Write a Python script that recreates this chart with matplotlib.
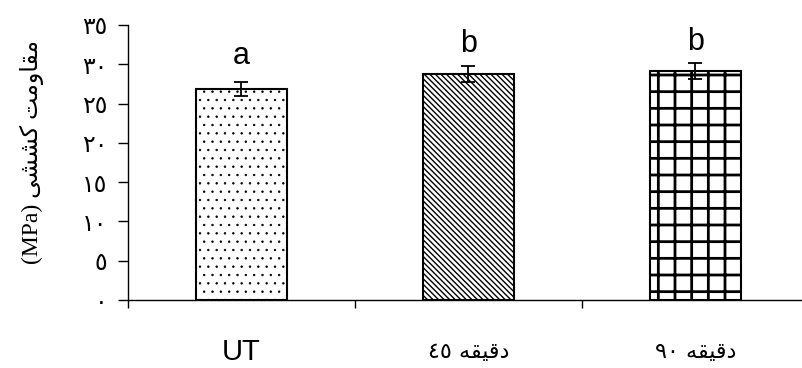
import numpy as np
import matplotlib.pyplot as plt

# data
groups = ['UT', '\u0664\u0665 \uFEEA\uFED8\uFEF4\uFED7\uFEA9', '\u0669\u0660 \uFEEA\uFED8\uFEF4\uFED7\uFEA9']
strength = [26.85, 28.75, 29.1]
errors = [0.85, 1.05, 1.0]
letters = ['a', 'b', 'b']
letter_y = [30.0, 31.6, 31.8]
yticks = [0, 5, 10, 15, 20, 25, 30, 35]
arabic_digits = '\u0660\u0661\u0662\u0663\u0664\u0665\u0666\u0667\u0668\u0669'
ytick_labels = [''.join(arabic_digits[int(c)] for c in str(v)) for v in yticks]
# "مقاومت کششی (MPa)" in visual (left to right) order, pre-shaped
ylabel = '(MPa) \uFBFD\uFEB8\uFEB8\uFB90 \uFE96\uFEE3\uFEED\uFE8E\uFED8\uFEE3'
hatches = ['..', '\\' * 6, '+']
hatch_lw = [0.5, 1.0, 2.0]

fig = plt.figure(figsize=(8.03, 3.68), dpi=100)
ax1 = fig.add_axes([128/803, 68/368, 675/803, 275/368])

x = np.arange(len(strength))
bars = ax1.bar(x, strength, width=0.40, color='white', edgecolor='black', linewidth=1.5)
for b, h, lw in zip(bars, hatches, hatch_lw):
    b.set_hatch(h)
    if hasattr(b, 'set_hatch_linewidth'):
        b.set_hatch_linewidth(lw)
ax1.errorbar(x, strength, yerr=errors, fmt='none', ecolor='black', elinewidth=1.3, capsize=5, capthick=1.3)

for xi, t, ty in zip(x, letters, letter_y):
    ax1.text(xi, ty, t, ha='center', va='baseline', fontsize=22, family='Liberation Sans')

for xi, g in zip(x, groups):
    if g == 'UT':
        ax1.text(xi, -0.19, g, transform=ax1.get_xaxis_transform(), ha='center', va='center',
                 fontsize=21, family='Liberation Sans')
    else:
        ax1.text(xi, -0.19, g, transform=ax1.get_xaxis_transform(), ha='center', va='center',
                 fontsize=16, family='DejaVu Sans')

ax1.set_xlim(-0.5, -0.5 + 675/227)
ax1.set_ylim(0, 35)
ax1.set_yticks(yticks)
ax1.set_yticklabels(ytick_labels, fontsize=17, family='DejaVu Sans')
ax1.set_xticks([-0.5, 0.5, 1.5])
ax1.set_xticklabels([])
ax1.tick_params(axis='y', direction='out', length=7, width=1, pad=8)
ax1.tick_params(axis='x', direction='out', length=6, width=1)
ax1.spines['top'].set_visible(False)
ax1.spines['right'].set_visible(False)
ax1.spines['left'].set_linewidth(1)
ax1.spines['bottom'].set_linewidth(1)

fig.text(32/803, 1 - 152/368, ylabel, rotation=90, ha='center', va='center',
         fontsize=17, family=['Liberation Serif', 'DejaVu Sans'])

fig.savefig('out.png', dpi=100)
